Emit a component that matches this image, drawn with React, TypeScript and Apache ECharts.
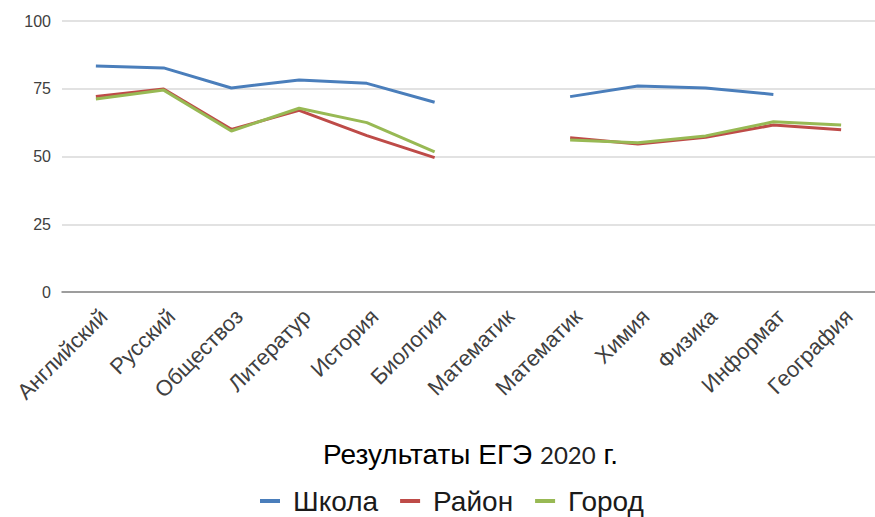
import React, { useEffect, useRef } from "react";
import * as echarts from "echarts";

const categories = [
  "Английский",
  "Русский",
  "Обществоз",
  "Литератур",
  "История",
  "Биология",
  "Математик",
  "Математик",
  "Химия",
  "Физика",
  "Информат",
  "География",
];

const school: (number | null)[] = [83.4, 82.7, 75.3, 78.2, 77.0, 70.0, null, 72.1, 76.0, 75.3, 72.9, null];
const district: (number | null)[] = [72.1, 74.9, 60.0, 67.0, 57.7, 49.6, null, 56.9, 54.6, 57.1, 61.6, 59.9];
const city: (number | null)[] = [71.2, 74.5, 59.4, 67.8, 62.5, 51.7, null, 56.1, 55.1, 57.6, 62.8, 61.6];

const yTicks = [0, 25, 50, 75, 100];

export default function App() {
  const ref = useRef<HTMLDivElement>(null);
  useEffect(() => {
    if (!ref.current) return;
    const chart = echarts.init(ref.current, null, { renderer: "svg" });
    const mk = (name: string, data: (number | null)[], color: string) => ({
      name,
      type: "line",
      data,
      showSymbol: false,
      symbol: "none",
      connectNulls: false,
      lineStyle: { color, width: 3 },
      itemStyle: { color },
    });
    chart.setOption({
      animation: false,
      title: {
        text: "{a|Результаты ЕГЭ }{b|2020}{a| г.}",
        left: 318,
        top: 435,
        textStyle: {
          fontWeight: "normal",
          rich: {
            a: { fontFamily: "Liberation Sans", fontSize: 28, fontWeight: "normal", color: "#000" },
            b: { fontFamily: "Lato", fontSize: 24, fontWeight: "normal", color: "#222" },
          },
        },
      },
      legend: {
        top: 482,
        left: 255,
        icon: "rect",
        itemWidth: 20,
        itemHeight: 4,
        itemGap: 22,
        textStyle: { fontFamily: "Liberation Sans", fontSize: 28, color: "#1a1a1a", padding: [0, 0, 0, 8] },
        data: ["Школа", "Район", "Город"],
      },
      grid: { left: 62, right: 0, top: 21, bottom: 225, containLabel: false },
      xAxis: {
        type: "category",
        data: categories,
        boundaryGap: true,
        axisLine: { lineStyle: { color: "#868686", width: 1.5 } },
        axisTick: { show: false },
        axisLabel: {
          interval: 0,
          rotate: 45,
          margin: 13,
          verticalAlign: "top",
          fontFamily: "Liberation Sans",
          fontSize: 22,
          color: "#404040",
        },
      },
      yAxis: {
        type: "value",
        min: yTicks[0],
        max: yTicks[yTicks.length - 1],
        interval: 25,
        axisLine: { show: false },
        axisTick: { show: false },
        splitLine: { lineStyle: { color: "#d9d9d9", width: 1.5 } },
        axisLabel: { margin: 11, fontFamily: "Liberation Sans", fontSize: 16, color: "#404040" },
      },
      series: [
        mk("Школа", school, "#4a7ebb"),
        mk("Район", district, "#be4b48"),
        mk("Город", city, "#98b954"),
      ],
    });
    return () => chart.dispose();
  }, []);
  return <div ref={ref} style={{ position: "absolute", left: 0, top: 0, width: 875, height: 517 }} />;
}
